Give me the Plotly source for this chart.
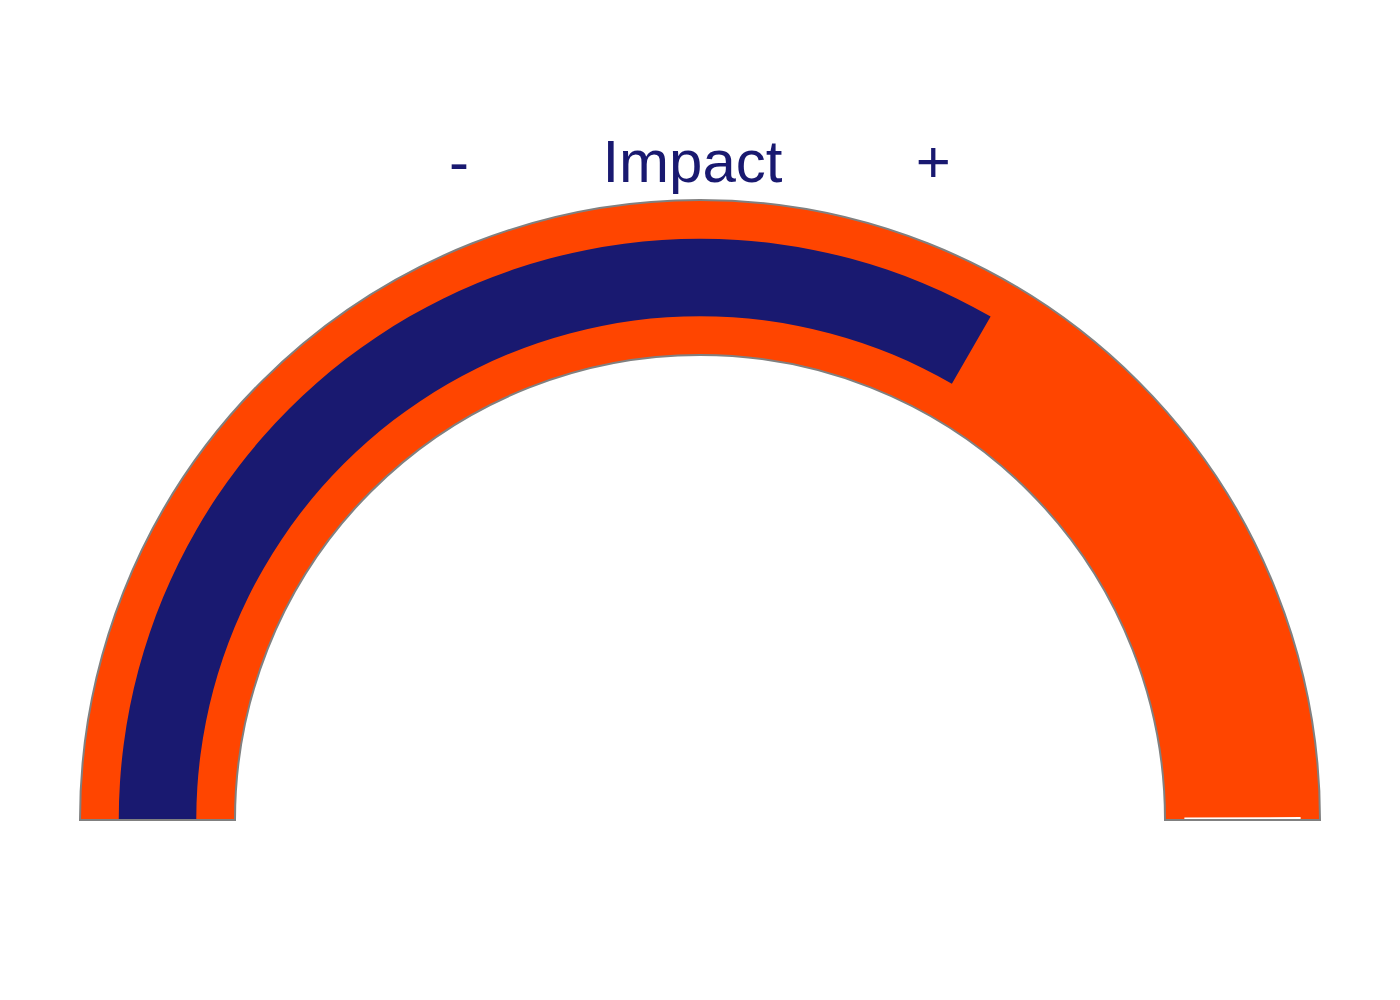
import plotly.graph_objects as go

title_text = "-        Impact        +"
gauge_min = 0
gauge_max = 3
value = 2
threshold_value = 2.997

fig = go.Figure(go.Indicator(
    mode="gauge",
    value=value,
    title={"text": title_text, "font": {"size": 60, "color": "midnightblue", "family": "Liberation Sans, Arial"}},
    gauge={
        "axis": {"range": [gauge_min, gauge_max], "visible": False},
        "bar": {"color": "midnightblue", "thickness": 0.5},
        "bgcolor": "orangered",
        "borderwidth": 2,
        "bordercolor": "gray",
        "threshold": {"line": {"color": "white", "width": 2}, "thickness": 0.75, "value": threshold_value},
    },
))
fig.update_layout(width=1400, height=1000, paper_bgcolor="white", font={"family": "Liberation Sans, Arial"})
fig.write_html("out.html")
